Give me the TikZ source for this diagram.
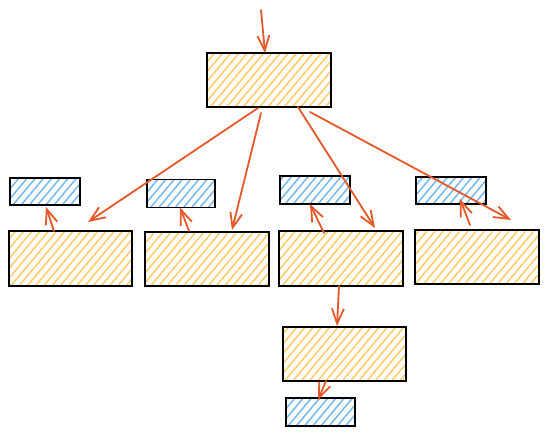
\documentclass[tikz,border=0pt]{standalone}
\usetikzlibrary{patterns.meta,arrows.meta,calc}
\definecolor{arrc}{HTML}{E4582A}
\definecolor{yhatch}{HTML}{FFCB62}
\definecolor{bhatch}{HTML}{74B8F2}
\tikzset{
  box/.style={draw=black, line width=1.4pt, inner sep=0pt, outer sep=0pt},
  obox/.style={box, pattern={Lines[angle=50,distance=6.3pt,line width=1.5pt]}, pattern color=yhatch},
  bbox/.style={box, pattern={Lines[angle=50,distance=6.3pt,line width=1.5pt]}, pattern color=bhatch},
  arr/.style={draw=arrc, line width=1.8pt, line cap=round, -{Straight Barb[length=15pt,width=12pt,line width=1.8pt]}},
}
\begin{document}
\begin{tikzpicture}[x=1pt,y=-1pt]
\useasboundingbox (0,0) rectangle (548,436);
% boxes
\node[obox, minimum width=124pt, minimum height=54pt] (t) at (269,80) {};
\node[obox, minimum width=123pt, minimum height=55pt] (o1) at (70.5,258.5) {};
\node[obox, minimum width=124pt, minimum height=54pt] (o2) at (207,259) {};
\node[obox, minimum width=124pt, minimum height=55pt] (o3) at (341,258.5) {};
\node[obox, minimum width=124pt, minimum height=54pt] (o4) at (477,257) {};
\node[obox, minimum width=123pt, minimum height=54pt] (o5) at (344.5,354) {};
\node[bbox, minimum width=70pt, minimum height=27pt] (b1) at (45,191.5) {};
\node[bbox, minimum width=68pt, minimum height=28pt] (b2) at (181,193.5) {};
\node[bbox, minimum width=70pt, minimum height=28pt] (b3) at (315,190) {};
\node[bbox, minimum width=70pt, minimum height=27pt] (b4) at (451,190.5) {};
\node[bbox, minimum width=69pt, minimum height=28pt] (b5) at (320.5,412) {};
\coordinate (in) at (261,10);
% arrows
\draw[arr] (in) -- ($(t.north)+(-4,0)$);
\draw[arr] ($(t.south)+(-11,1)$) -- ($(o1.north)+(17.5,-9)$);
\draw[arr] ($(t.south)+(-8,6)$) -- ($(o2.north)+(25,-2)$);
\draw[arr] ($(t.south)+(29,0)$) -- ($(o3.north)+(34,-3)$);
\draw[arr] ($(t.south)+(41,5)$) -- ($(o4.north)+(34,-10)$);
\draw[arr] ($(o1.north)+(-16.5,0)$) -- ($(b1.south)+(1,2)$);
\draw[arr] ($(o2.north)+(-18,-1)$) -- ($(b2.south)+(-1,0)$);
\draw[arr] ($(o3.north)+(-17,2)$) -- ($(b3.south)+(-5,0)$);
\draw[arr] ($(o4.north)+(-7,-5)$) -- ($(b4.south)+(9,-5)$);
\draw[arr] ($(o3.south)+(-2,0)$) -- ($(o5.north)+(-7.5,-1)$);
\draw[arr] ($(o5.south)+(-18.5,0)$) -- ($(b5.north)+(-2.5,2)$);
\end{tikzpicture}
\end{document}
